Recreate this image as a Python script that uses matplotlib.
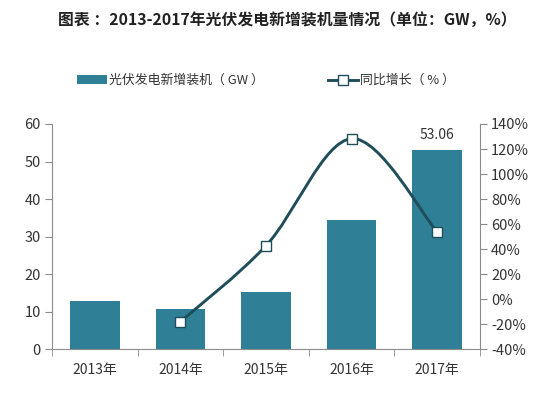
import numpy as np
import matplotlib
matplotlib.use("Agg")
import matplotlib.pyplot as plt
from matplotlib.path import Path
from matplotlib.patches import PathPatch, Patch
from matplotlib.lines import Line2D

plt.rcParams['font.family'] = ['Noto Sans CJK SC', 'DejaVu Sans']
plt.rcParams['axes.unicode_minus'] = False

# 数据
years = ['2013年', '2014年', '2015年', '2016年', '2017年']
capacity = [12.92, 10.6, 15.13, 34.54, 53.06]          # GW
growth_years = [1, 2, 3, 4]                             # 2014-2017 的位置
growth = [-17.96, 42.74, 128.29, 53.62]                 # %

bar_color = '#2f8096'
line_color = '#1f4d5a'
axis_color = '#8c8c8c'
text_color = '#333333'


def smooth_path(xs, ys):
    # Excel 风格的平滑线：Catmull-Rom 转三次贝塞尔
    pts = list(zip(xs, ys))
    verts = [pts[0]]
    codes = [Path.MOVETO]
    for i in range(len(pts) - 1):
        p0 = pts[i - 1] if i > 0 else pts[i]
        p1 = pts[i]
        p2 = pts[i + 1]
        p3 = pts[i + 2] if i + 2 < len(pts) else pts[i + 1]
        c1 = (p1[0] + (p2[0] - p0[0]) / 6, p1[1] + (p2[1] - p0[1]) / 6)
        c2 = (p2[0] - (p3[0] - p1[0]) / 6, p2[1] - (p3[1] - p1[1]) / 6)
        verts += [c1, c2, p2]
        codes += [Path.CURVE4] * 3
    return Path(verts, codes)


fig = plt.figure(figsize=(5.57, 3.97), dpi=100)
ax = fig.add_axes([0.0934, 0.1202, 0.7684, 0.5675])
ax2 = ax.twinx()

x = np.arange(len(years))
ax.bar(x, capacity, width=0.58, color=bar_color, zorder=2)
ax.text(x[-1], capacity[-1] + 2.2, f'{capacity[-1]:.2f}', ha='center', va='bottom',
        fontsize=10, color=text_color)

ax.set_xlim(-0.5, len(years) - 0.5)
ax.set_ylim(0, 60)
ax.set_yticks(range(0, 61, 10))
ax.set_xticks(x)
ax.set_xticklabels(years)
ax.set_xticks(np.arange(-0.5, len(years), 1), minor=True)
ax.tick_params(axis='x', which='major', length=0, pad=10, labelsize=10, labelcolor=text_color)
ax.tick_params(axis='x', which='minor', length=5, color=axis_color)
ax.tick_params(axis='y', length=5, color=axis_color, labelsize=10.5, labelcolor=text_color, pad=3)

ax2.set_ylim(-40, 140)
ax2.set_yticks(range(-40, 141, 20))
ax2.set_yticklabels([f'{v}%' for v in range(-40, 141, 20)])
ax2.tick_params(axis='y', length=5, color=axis_color, labelsize=10.5, labelcolor=text_color, pad=3)

for a in (ax, ax2):
    a.spines['top'].set_visible(False)
    for s in ('left', 'right', 'bottom'):
        a.spines[s].set_color(axis_color)
ax.spines['right'].set_visible(False)
ax2.spines['left'].set_visible(False)
ax2.spines['bottom'].set_visible(False)

ax2.add_patch(PathPatch(smooth_path(growth_years, growth), fill=False,
                        edgecolor=line_color, lw=2.1, zorder=3, capstyle='round'))
ax2.plot(growth_years, growth, ls='none', marker='s', ms=7, mfc='white',
         mec=line_color, mew=1, zorder=4)

# 图例
handles = [Patch(facecolor=bar_color, edgecolor='none'),
           Line2D([0], [0], color=line_color, lw=2.1, marker='s', ms=6.5,
                  mfc='white', mec=line_color, mew=1)]
fig.legend(handles, ['光伏发电新增装机（ GW ）', '同比增长（ % ）'], ncol=2,
           loc='center left', bbox_to_anchor=(0.118, 0.797), frameon=False,
           fontsize=9.3, handlelength=2.3, handleheight=0.6, handletextpad=0.15,
           columnspacing=5.0, labelcolor=text_color)

fig.text(0.515, 0.95, '图表 ：2013-2017年光伏发电新增装机量情况（单位：GW，%）',
         ha='center', va='center', fontsize=11.4, fontweight='bold', color='#222222')

fig.savefig('out.png', dpi=100)
